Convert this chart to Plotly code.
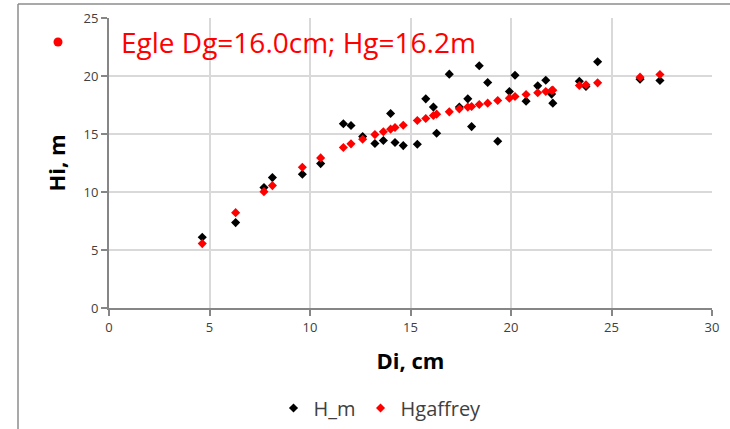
import plotly.graph_objects as go

# Tree measurements: diameter at breast height (cm), measured height (m),
# and height predicted by the Gaffrey height curve (m)
diam_cm = [4.64, 6.30, 7.71, 8.13, 9.62, 10.53, 11.66, 12.04, 12.62, 13.23,
           13.65, 14.01, 14.23, 14.64, 15.34, 15.76, 16.14, 16.30, 16.93, 17.43,
           17.85, 18.04, 18.42, 18.84, 19.34, 19.92, 20.20, 20.75, 21.33, 21.73,
           22.02, 22.08, 23.40, 23.73, 24.31, 26.42, 27.41]
h_measured = [6.10, 7.36, 10.38, 11.24, 11.53, 12.45, 15.88, 15.73, 14.78, 14.18,
              14.44, 16.77, 14.27, 14.00, 14.12, 18.03, 17.32, 15.07, 20.16, 17.32,
              18.03, 15.64, 20.88, 19.44, 14.38, 18.66, 20.06, 17.83, 19.15, 19.64,
              18.44, 17.66, 19.55, 19.10, 21.23, 19.73, 19.61]
h_gaffrey = [5.55, 8.22, 10.03, 10.55, 12.14, 12.94, 13.83, 14.15, 14.55, 14.95,
             15.19, 15.42, 15.56, 15.76, 16.16, 16.33, 16.59, 16.71, 16.91, 17.17,
             17.32, 17.37, 17.54, 17.66, 17.89, 18.09, 18.23, 18.41, 18.55, 18.66,
             18.75, 18.78, 19.18, 19.24, 19.41, 19.90, 20.13]

x_ticks = [0, 5, 10, 15, 20, 25, 30]
y_ticks = [0, 5, 10, 15, 20, 25]
caption = "Egle Dg=16.0cm; Hg=16.2m"

W, H = 730, 429
L, R, T, B = 109, 18, 18, 121
pw, ph = W - L - R, H - T - B


def px(x):
    return (x - L) / pw


def py(y):
    return (H - B - y) / ph


FONT = "Open Sans, Liberation Sans, sans-serif"

fig = go.Figure()
fig.add_trace(go.Scatter(
    x=diam_cm, y=h_measured, mode="markers", name="H_m",
    marker=dict(symbol="diamond", size=7, color="black"),
))
fig.add_trace(go.Scatter(
    x=diam_cm, y=h_gaffrey, mode="markers", name="Hgaffrey",
    marker=dict(symbol="diamond", size=7, color="#ff0000"),
))

tick_font = dict(family=FONT, size=13, color="#404040")
title_font = dict(family=FONT, size=22, color="black")

fig.update_layout(
    width=W, height=H,
    margin=dict(l=L, r=R, t=T, b=B, autoexpand=False),
    paper_bgcolor="white", plot_bgcolor="white",
    showlegend=True,
    legend=dict(orientation="h", x=px(380), y=py(408), xanchor="center", yanchor="middle",
                font=dict(family=FONT, size=20, color="#404040"),
                itemwidth=30, tracegroupgap=0),
    xaxis=dict(range=[0, 30], tickvals=x_ticks, ticktext=[str(v) for v in x_ticks],
               showgrid=True, gridcolor="#d9d9d9", gridwidth=2, zeroline=False,
               showline=True, linecolor="#868686", linewidth=2,
               ticks="outside", ticklen=6, tickcolor="#868686", tickwidth=2,
               tickfont=tick_font,
               title=dict(text="<b>Di, cm</b>", font=title_font, standoff=19)),
    yaxis=dict(range=[0, 25], tickvals=y_ticks, ticktext=[str(v) for v in y_ticks],
               showgrid=True, gridcolor="#d9d9d9", gridwidth=2, zeroline=False,
               showline=True, linecolor="#868686", linewidth=2,
               ticks="outside", ticklen=6, tickcolor="#868686", tickwidth=2,
               tickfont=tick_font,
               title=dict(text="<b>Hi, m</b>", font=title_font, standoff=12)),
    shapes=[
        # outer frame (left and top edges)
        dict(type="line", xref="paper", yref="paper", x0=px(18), x1=px(18),
             y0=py(H + 5), y1=py(4), line=dict(color="#8c8c8c", width=1.5)),
        dict(type="line", xref="paper", yref="paper", x0=px(18), x1=px(W + 5),
             y0=py(4), y1=py(4), line=dict(color="#8c8c8c", width=1.5)),
        # red bullet before the caption
        dict(type="circle", xref="paper", yref="paper",
             x0=px(58 - 4.5), x1=px(58 + 4.5), y0=py(42 + 4.5), y1=py(42 - 4.5),
             fillcolor="#ff0000", line=dict(width=0)),
    ],
    annotations=[
        dict(text=caption, xref="paper", yref="paper", x=px(119), y=py(42),
             xanchor="left", yanchor="middle", showarrow=False,
             font=dict(family=FONT, size=28, color="#ff0000")),
    ],
)

fig.write_html("out.html")
